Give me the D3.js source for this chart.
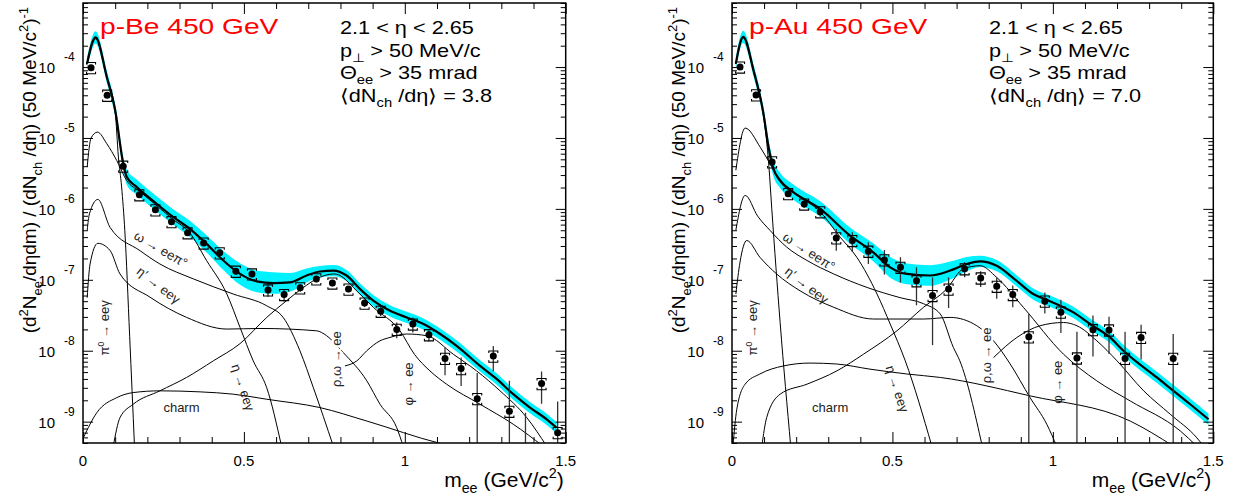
<!DOCTYPE html>
<html>
<head>
<meta charset="utf-8">
<script src="https://cdn.jsdelivr.net/npm/d3@7/dist/d3.min.js"></script>
<style>
  body { margin: 0; background: #fff; }
  svg { display: block; font-family: "Liberation Sans", Arial, Helvetica, sans-serif; }
</style>
</head>
<body>
<svg width="1252" height="503"></svg>
<script>
// centres of the 50 MeV mass bins
const massBins = [0.025, 0.075, 0.125, 0.175, 0.225, 0.275, 0.325, 0.375, 0.425, 0.475,
  0.525, 0.575, 0.625, 0.675, 0.725, 0.775, 0.825, 0.875, 0.925, 0.975,
  1.025, 1.075, 1.125, 1.175, 1.225, 1.275, 1.325, 1.375, 1.425, 1.475];

// ---- p-Be ----
const pBeData = [9.8e-5, 4.0e-5, 4.0e-6, 1.58e-6, 9.7e-7, 6.6e-7, 4.6e-7, 3.3e-7, 2.4e-7, 1.32e-7,
  1.21e-7, 7.2e-8, 6.2e-8, 7.7e-8, 1.03e-7, 9.0e-8, 7.4e-8, 4.7e-8, 3.6e-8, 2.0e-8,
  2.38e-8, 1.68e-8, 7.8e-9, 5.6e-9, 2.11e-9, 8.4e-9, 1.40e-9, 4.0e-10, 3.44e-9, 7.0e-10];
// relative statistical errors
const pBeStat = [0.04, 0.04, 0.05, 0.05, 0.06, 0.06, 0.07, 0.07, 0.08, 0.1,
  0.1, 0.2, 0.2, 0.12, 0.1, 0.1, 0.1, 0.12, 0.14, 0.25,
  0.24, 0.2, 0.42, 0.43, 1.3, 0.39, 1.7, 2.35, 0.48, 1.75];
const pBeSys = 0.18;

const pBeTotal = [[0.013, 1.14e-4], [0.039, 2.62e-4], [0.074, 7.26e-5], [0.100, 2.46e-5], [0.125, 4.35e-6],
  [0.136, 2.81e-6], [0.167, 2.03e-6], [0.229, 1.18e-6], [0.281, 7.64e-7], [0.332, 5.24e-7],
  [0.384, 3.21e-7], [0.436, 1.87e-7], [0.488, 1.21e-7], [0.540, 9.5e-8], [0.591, 9.0e-8],
  [0.643, 9.2e-8], [0.695, 1.15e-7], [0.736, 1.31e-7], [0.778, 1.35e-7], [0.819, 1.15e-7],
  [0.861, 7.4e-8], [0.902, 5.1e-8], [0.954, 3.66e-8], [1.006, 2.95e-8], [1.058, 2.38e-8],
  [1.110, 1.72e-8], [1.161, 1.17e-8], [1.234, 6.1e-9], [1.286, 3.97e-9], [1.337, 2.44e-9],
  [1.389, 1.58e-9], [1.441, 1.08e-9], [1.472, 8.2e-10]];
// relative width of the cocktail uncertainty band
const pBeBand = [0.22, 0.22, 0.22, 0.22, 0.25, 0.28, 0.28, 0.28, 0.28, 0.3, 0.32, 0.36, 0.42, 0.42, 0.42,
  0.36, 0.26, 0.2, 0.2, 0.2, 0.2, 0.2, 0.2, 0.2, 0.2, 0.2, 0.2, 0.2, 0.2, 0.2, 0.2, 0.2, 0.2];

const pBePi0 = [[0.013, 1.1e-4], [0.039, 2.5e-4], [0.074, 7.1e-5], [0.100, 2.34e-5], [0.110, 5.4e-6],
  [0.120, 2.04e-6], [0.130, 4.9e-7], [0.145, 1.6e-8], [0.160, 4.5e-10]];
const pBeEta = [[0.013, 3.9e-6], [0.025, 1.0e-5], [0.045, 1.21e-5], [0.074, 8.3e-6], [0.105, 4.8e-6],
  [0.136, 2.5e-6], [0.175, 1.78e-6], [0.23, 1.10e-6], [0.28, 7.1e-7], [0.33, 4.7e-7],
  [0.384, 1.87e-7], [0.447, 6.3e-8], [0.488, 2.13e-8], [0.529, 7.2e-9], [0.571, 3.0e-9], [0.617, 4.5e-10]];
const pBeOmegaDalitz = [[0.013, 5.0e-7], [0.02, 8.5e-7], [0.046, 1.36e-6], [0.084, 5.5e-7], [0.177, 2.58e-7],
  [0.239, 1.67e-7], [0.343, 1.03e-7], [0.467, 6.3e-8], [0.571, 4.3e-8], [0.622, 2.95e-8],
  [0.674, 1.0e-8], [0.716, 3.0e-9], [0.778, 4.5e-10]];
const pBeEtaPrime = [[0.013, 5.6e-8], [0.022, 1.67e-7], [0.046, 3.27e-7], [0.084, 2.6e-7], [0.115, 1.21e-7],
  [0.208, 5.7e-8], [0.322, 2.95e-8], [0.447, 2.02e-8], [0.550, 2.06e-8], [0.726, 1.91e-8],
  [0.757, 1.63e-8], [0.809, 9.4e-9], [0.882, 3.76e-9], [0.923, 1.76e-9], [0.975, 8.2e-10], [0.995, 4.5e-10]];
const pBeRhoOmega = [[0.094, 4.5e-10], [0.115, 1.14e-9], [0.156, 1.76e-9], [0.239, 2.72e-9], [0.322, 4.2e-9],
  [0.405, 7.2e-9], [0.488, 1.26e-8], [0.571, 2.95e-8], [0.633, 5.1e-8], [0.685, 7.8e-8],
  [0.726, 1.03e-7], [0.778, 1.21e-7], [0.799, 1.15e-7], [0.840, 7.8e-8], [0.902, 4.1e-8],
  [0.985, 1.91e-8], [1.03, 8.9e-9], [1.078, 5.2e-9], [1.130, 3.37e-9], [1.234, 1.76e-9],
  [1.337, 9.2e-10], [1.43, 4.5e-10]];
const pBePhi = [[0.814, 6.1e-9], [0.851, 7.2e-9], [0.882, 1.0e-8], [0.923, 1.38e-8], [0.954, 1.54e-8],
  [1.006, 1.72e-8], [1.068, 1.63e-8], [1.151, 8.9e-9], [1.223, 5.2e-9], [1.296, 2.72e-9],
  [1.379, 1.14e-9], [1.441, 4.5e-10]];
const pBeCharm = [[0.001, 5.9e-10], [0.043, 1.34e-9], [0.105, 2.18e-9], [0.156, 2.57e-9], [0.239, 2.72e-9],
  [0.364, 2.63e-9], [0.467, 2.44e-9], [0.571, 2.07e-9], [0.736, 1.58e-9], [0.882, 1.02e-9],
  [1.109, 4.95e-10], [1.2, 4.0e-10]];

// ---- p-Au ----
const pAuData = [1.0e-4, 4.05e-5, 4.6e-6, 1.64e-6, 1.17e-6, 9.1e-7, 3.9e-7, 3.58e-7, 2.53e-7, 1.91e-7,
  1.50e-7, 9.7e-8, 6.0e-8, 7.4e-8, 1.43e-7, 1.06e-7, 8.1e-8, 6.2e-8, 1.57e-8, 5.0e-8,
  3.5e-8, 7.9e-9, 1.98e-8, 1.96e-8, 7.8e-9, 1.54e-8, null, 7.8e-9, null, null];
const pAuStat = [0.04, 0.05, 0.08, 0.1, 0.12, 0.14, 0.34, 0.31, 0.34, 0.38,
  0.39, 0.55, 0.8, 0.46, 0.24, 0.25, 0.33, 0.34, 1.1, 0.33,
  0.49, 1.35, 0.58, 0.54, 1.37, 0.51, null, 1.2, null, null];
const pAuSys = 0.18;

const pAuTotal = [[0.012, 1.12e-4], [0.035, 2.67e-4], [0.067, 9.0e-5], [0.098, 2.21e-5], [0.114, 7.4e-6],
  [0.129, 3.69e-6], [0.150, 2.52e-6], [0.19, 1.74e-6], [0.275, 1.0e-6], [0.368, 4.2e-7],
  [0.440, 2.44e-7], [0.493, 1.5e-7], [0.545, 1.21e-7], [0.617, 1.15e-7], [0.680, 1.35e-7],
  [0.732, 1.67e-7], [0.773, 1.82e-7], [0.825, 1.58e-7], [0.887, 9.7e-8], [0.939, 6.3e-8],
  [0.991, 5.0e-8], [1.064, 3.47e-8], [1.116, 2.38e-8], [1.178, 1.54e-8], [1.220, 1.0e-8],
  [1.324, 4.2e-9], [1.428, 1.76e-9], [1.485, 1.08e-9]];
const pAuBand = [0.22, 0.22, 0.22, 0.22, 0.25, 0.28, 0.28, 0.28, 0.28, 0.3, 0.34, 0.4, 0.4, 0.4,
  0.34, 0.26, 0.2, 0.2, 0.2, 0.2, 0.2, 0.2, 0.2, 0.2, 0.2, 0.2, 0.2, 0.2];

const pAuPi0 = [[0.012, 1.1e-4], [0.035, 2.57e-4], [0.067, 8.7e-5], [0.098, 2.09e-5], [0.115, 4.0e-6],
  [0.124, 1.0e-6], [0.15, 2.5e-8], [0.183, 4.5e-10]];
const pAuEta = [[0.012, 3.5e-6], [0.041, 1.38e-5], [0.088, 7.4e-6], [0.114, 4.7e-6], [0.15, 2.4e-6],
  [0.2, 1.58e-6], [0.275, 9.1e-7], [0.337, 4.0e-7], [0.389, 2.08e-7], [0.452, 6.3e-8],
  [0.493, 2.38e-8], [0.540, 7.2e-9], [0.623, 4.5e-10]];
const pAuOmegaDalitz = [[0.012, 5.0e-7], [0.041, 1.55e-6], [0.08, 7.9e-7], [0.119, 4.95e-7], [0.171, 2.88e-7],
  [0.234, 1.87e-7], [0.317, 1.21e-7], [0.421, 7.8e-8], [0.524, 5.6e-8], [0.597, 4.6e-8],
  [0.649, 3.3e-8], [0.690, 1.11e-8], [0.710, 7.2e-9], [0.78, 4.5e-10]];
const pAuEtaPrime = [[0.012, 6.3e-8], [0.025, 1.78e-7], [0.046, 3.58e-7], [0.087, 2.08e-7], [0.139, 1.21e-7],
  [0.212, 7.0e-8], [0.317, 4.1e-8], [0.441, 2.8e-8], [0.597, 2.8e-8], [0.680, 2.95e-8],
  [0.763, 2.25e-8], [0.815, 1.38e-8], [0.867, 6.5e-9], [0.929, 2.18e-9], [0.981, 9.2e-10], [1.012, 4.5e-10]];
const pAuRhoOmega = [[0.093, 4.5e-10], [0.108, 1.14e-9], [0.150, 2.44e-9], [0.234, 3.38e-9], [0.327, 5.2e-9],
  [0.410, 8.95e-9], [0.514, 1.91e-8], [0.597, 4.1e-8], [0.669, 7.4e-8], [0.721, 1.43e-7],
  [0.773, 1.58e-7], [0.825, 1.08e-7], [0.908, 4.1e-8], [1.033, 8.95e-9], [1.137, 3.76e-9],
  [1.241, 1.96e-9], [1.397, 7.4e-10], [1.449, 4.5e-10]];
const pAuPhi = [[0.815, 8.0e-9], [0.888, 1.54e-8], [0.960, 2.25e-8], [1.033, 2.5e-8], [1.075, 2.25e-8],
  [1.137, 1.38e-8], [1.200, 7.2e-9], [1.283, 2.72e-9], [1.366, 1.27e-9], [1.449, 5.9e-10], [1.470, 4.5e-10]];
const pAuCharm = [[0.003, 4.5e-10], [0.015, 1.5e-9], [0.041, 3.38e-9], [0.087, 4.7e-9], [0.160, 6.1e-9],
  [0.243, 6.7e-9], [0.326, 6.5e-9], [0.430, 5.5e-9], [0.545, 4.7e-9], [0.649, 4.2e-9],
  [0.929, 2.31e-9], [1.241, 1.02e-9], [1.376, 4.5e-10]];

// decay channel labels, placed in data coordinates (mass, yield) with a text angle
const pBeLabels = [
  { parts: [['ω → eeπ°']], m: 0.242, v: 2.7e-7, rot: 30 },
  { parts: [['η′ → eeγ']], m: 0.235, v: 8.4e-8, rot: 38 },
  { parts: [['π'], ['0', 'sup'], [' → eeγ']], m: 0.068, v: 2.1e-8, rot: -90 },
  { parts: [['charm']], m: 0.306, v: 1.6e-9, rot: 0 },
  { parts: [['η → eeγ']], m: 0.497, v: 3.05e-9, rot: 72 },
  { parts: [['ρ,ω → ee']], m: 0.789, v: 7.6e-9, rot: -90, halo: true },
  { parts: [['φ → ee']], m: 1.010, v: 3.4e-9, rot: -90 }
];
const pAuLabels = [
  { parts: [['ω → eeπ°']], m: 0.240, v: 2.5e-7, rot: 33 },
  { parts: [['η′ → eeγ']], m: 0.233, v: 8.4e-8, rot: 38 },
  { parts: [['π'], ['0', 'sup'], [' → eeγ']], m: 0.065, v: 2.1e-8, rot: -90 },
  { parts: [['charm']], m: 0.306, v: 1.6e-9, rot: 0 },
  { parts: [['η → eeγ']], m: 0.515, v: 2.9e-9, rot: 72 },
  { parts: [['ρ,ω → ee']], m: 0.792, v: 8.6e-9, rot: -90, halo: true },
  { parts: [['φ → ee']], m: 1.013, v: 3.6e-9, rot: -90 }
];

const massDomain = [0, 1.5];
const yDomain = [5e-10, 8e-4];
const xMajor = [0, 0.5, 1, 1.5];
const xMinor = [0.1, 0.2, 0.3, 0.4, 0.6, 0.7, 0.8, 0.9, 1.1, 1.2, 1.3, 1.4];

const panels = [
  { id: 'pbe', left: 83, right: 565.7, title: 'p-Be 450 GeV', mult: '3.8',
    data: pBeData, stat: pBeStat, sys: pBeSys, total: pBeTotal, band: pBeBand,
    curves: [pBePi0, pBeEta, pBeOmegaDalitz, pBeEtaPrime, pBeRhoOmega, pBePhi, pBeCharm],
    labels: pBeLabels },
  { id: 'pau', left: 732, right: 1213.3, title: 'p-Au 450 GeV', mult: '7.0',
    data: pAuData, stat: pAuStat, sys: pAuSys, total: pAuTotal, band: pAuBand,
    curves: [pAuPi0, pAuEta, pAuOmegaDalitz, pAuEtaPrime, pAuRhoOmega, pAuPhi, pAuCharm],
    labels: pAuLabels }
];

const svg = d3.select('svg');
const frameTop = 3, frameBottom = 443;

// text with sub/superscripts built from [string, kind] pieces
function rich(text, parts, size) {
  let shift = 0;
  parts.forEach(([s, kind]) => {
    const target = kind === 'sup' ? -0.42 * size : kind === 'sub' ? 0.3 * size : 0;
    text.append('tspan')
      .attr('dy', target - shift)
      .attr('font-size', kind ? size * 0.68 : size)
      .text(s);
    shift = target;
  });
  return text;
}

function drawPanel(p) {
  const x = d3.scaleLinear().domain(massDomain).range([p.left, p.right]);
  const y = d3.scaleLog().domain(yDomain).range([frameBottom, frameTop]);
  const g = svg.append('g');

  g.append('clipPath').attr('id', 'clip-' + p.id)
    .append('rect')
    .attr('x', p.left).attr('y', frameTop)
    .attr('width', p.right - p.left).attr('height', frameBottom - frameTop);
  const plot = g.append('g').attr('clip-path', `url(#clip-${p.id})`);

  // cocktail uncertainty band
  const band = d3.area().curve(d3.curveMonotoneX)
    .x(d => x(d[0]))
    .y0((d, i) => y(d[1] / (1 + p.band[i])))
    .y1((d, i) => y(d[1] * (1 + p.band[i])));
  plot.append('path').datum(p.total)
    .attr('d', band)
    .attr('fill', '#00f2ff');

  const line = d3.line().curve(d3.curveMonotoneX)
    .x(d => x(d[0]))
    .y(d => y(d[1]));

  // individual sources
  plot.selectAll('path.source').data(p.curves).join('path')
    .attr('class', 'source')
    .attr('d', line)
    .attr('fill', 'none')
    .attr('stroke', '#000')
    .attr('stroke-width', 1);

  // labels for each source
  p.labels.forEach(l => {
    const t = plot.append('text')
      .attr('transform', `translate(${x(l.m)},${y(l.v)}) rotate(${l.rot})`)
      .attr('text-anchor', 'middle')
      .attr('y', 4.5)
      .attr('fill', '#222');
    if (l.halo) t.attr('stroke', '#fff').attr('stroke-width', 5).attr('paint-order', 'stroke');
    rich(t, l.parts, 13);
  });

  // total cocktail
  plot.append('path').datum(p.total)
    .attr('d', line)
    .attr('fill', 'none')
    .attr('stroke', '#000')
    .attr('stroke-width', 2.2);

  // measured points
  const pts = massBins.map((m, i) => ({ m, v: p.data[i], e: p.stat[i] }))
    .filter(d => d.v !== null);
  const pt = plot.selectAll('g.pt').data(pts).join('g').attr('class', 'pt');
  pt.append('line')
    .attr('x1', d => x(d.m)).attr('x2', d => x(d.m))
    .attr('y1', d => y(d.v * (1 + d.e)))
    .attr('y2', d => d.e >= 1 ? frameBottom + 5 : y(d.v * (1 - d.e)))
    .attr('stroke', '#333').attr('stroke-width', 1.3);
  const bracket = (d, up) => {
    const yy = y(d.v * (up ? 1 + p.sys : 1 - p.sys));
    const cx = x(d.m), h = up ? 2 : -2;
    return `M${cx - 4.5},${yy + h}V${yy}H${cx + 4.5}V${yy + h}`;
  };
  pt.append('path')
    .attr('d', d => bracket(d, true) + bracket(d, false))
    .attr('fill', 'none').attr('stroke', '#000').attr('stroke-width', 1.1);
  pt.append('circle')
    .attr('cx', d => x(d.m)).attr('cy', d => y(d.v))
    .attr('r', 3.5).attr('fill', '#000');

  // axes: ticks point inward on all four sides
  const yMajor = y.ticks().filter(v => Math.abs(Math.log10(v) - Math.round(Math.log10(v))) < 1e-6);
  const yMinor = y.ticks().filter(v => !yMajor.includes(v));
  const axisDefs = [
    [d3.axisBottom(x).tickValues(xMajor).tickSize(-11), `translate(0,${frameBottom})`],
    [d3.axisBottom(x).tickValues(xMinor).tickSize(-6), `translate(0,${frameBottom})`],
    [d3.axisTop(x).tickValues(xMajor).tickSize(-11), `translate(0,${frameTop})`],
    [d3.axisTop(x).tickValues(xMinor).tickSize(-6), `translate(0,${frameTop})`],
    [d3.axisLeft(y).tickValues(yMajor).tickSize(-10), `translate(${p.left},0)`],
    [d3.axisLeft(y).tickValues(yMinor).tickSize(-5), `translate(${p.left},0)`],
    [d3.axisRight(y).tickValues(yMajor).tickSize(-10), `translate(${p.right},0)`],
    [d3.axisRight(y).tickValues(yMinor).tickSize(-5), `translate(${p.right},0)`]
  ];
  axisDefs.forEach(([ax, tr]) => {
    const a = g.append('g').attr('transform', tr).call(ax.tickFormat(''));
    a.select('.domain').remove();
    a.selectAll('line').attr('stroke', '#000').attr('stroke-width', 1);
  });

  g.append('rect')
    .attr('x', p.left).attr('y', frameTop)
    .attr('width', p.right - p.left).attr('height', frameBottom - frameTop)
    .attr('fill', 'none').attr('stroke', '#000').attr('stroke-width', 1.5);

  // tick labels
  g.selectAll('text.xtick').data(xMajor).join('text')
    .attr('class', 'xtick')
    .attr('x', d => x(d)).attr('y', frameBottom + 23)
    .attr('text-anchor', 'middle').attr('font-size', 15)
    .text(d => d3.format('')(d));
  yMajor.forEach(v => {
    const yy = y(v);
    g.append('text').attr('x', p.left - 28).attr('y', yy + 6)
      .attr('text-anchor', 'end').attr('font-size', 15).text('10');
    g.append('text').attr('x', p.left - 19).attr('y', yy - 6)
      .attr('font-size', 12).text(Math.round(Math.log10(v)));
  });

  // axis titles
  rich(g.append('text')
    .attr('transform', `translate(${p.left - 47},7) rotate(-90)`)
    .attr('text-anchor', 'end'),
    [['(d'], ['2', 'sup'], ['N'], ['ee', 'sub'], ['/dηdm) / (dN'], ['ch', 'sub'],
     [' /dη) (50 MeV/c'], ['2', 'sup'], [')'], ['-1', 'sup']], 19);
  rich(g.append('text')
    .attr('x', p.right - 2).attr('y', 487)
    .attr('text-anchor', 'end'),
    [['m'], ['ee', 'sub'], [' (GeV/c'], ['2', 'sup'], [')']], 21);

  // title and selection cuts
  g.append('text')
    .attr('transform', `translate(${p.left + 17},34) scale(1.28,1)`)
    .attr('font-size', 22).attr('fill', '#ff0000')
    .text(p.title);
  const cuts = [
    [['2.1 < η < 2.65']],
    [['p'], ['⊥', 'sub'], [' > 50 MeV/c']],
    [['Θ'], ['ee', 'sub'], [' > 35 mrad']],
    [['⟨dN'], ['ch', 'sub'], [' /dη⟩ = ' + p.mult]]
  ];
  cuts.forEach((parts, i) => {
    rich(g.append('text')
      .attr('transform', `translate(${p.left + 257},${34 + i * 22.5}) scale(1.24,1)`),
      parts, 17.5);
  });
}

panels.forEach(drawPanel);
</script>
</body>
</html>
